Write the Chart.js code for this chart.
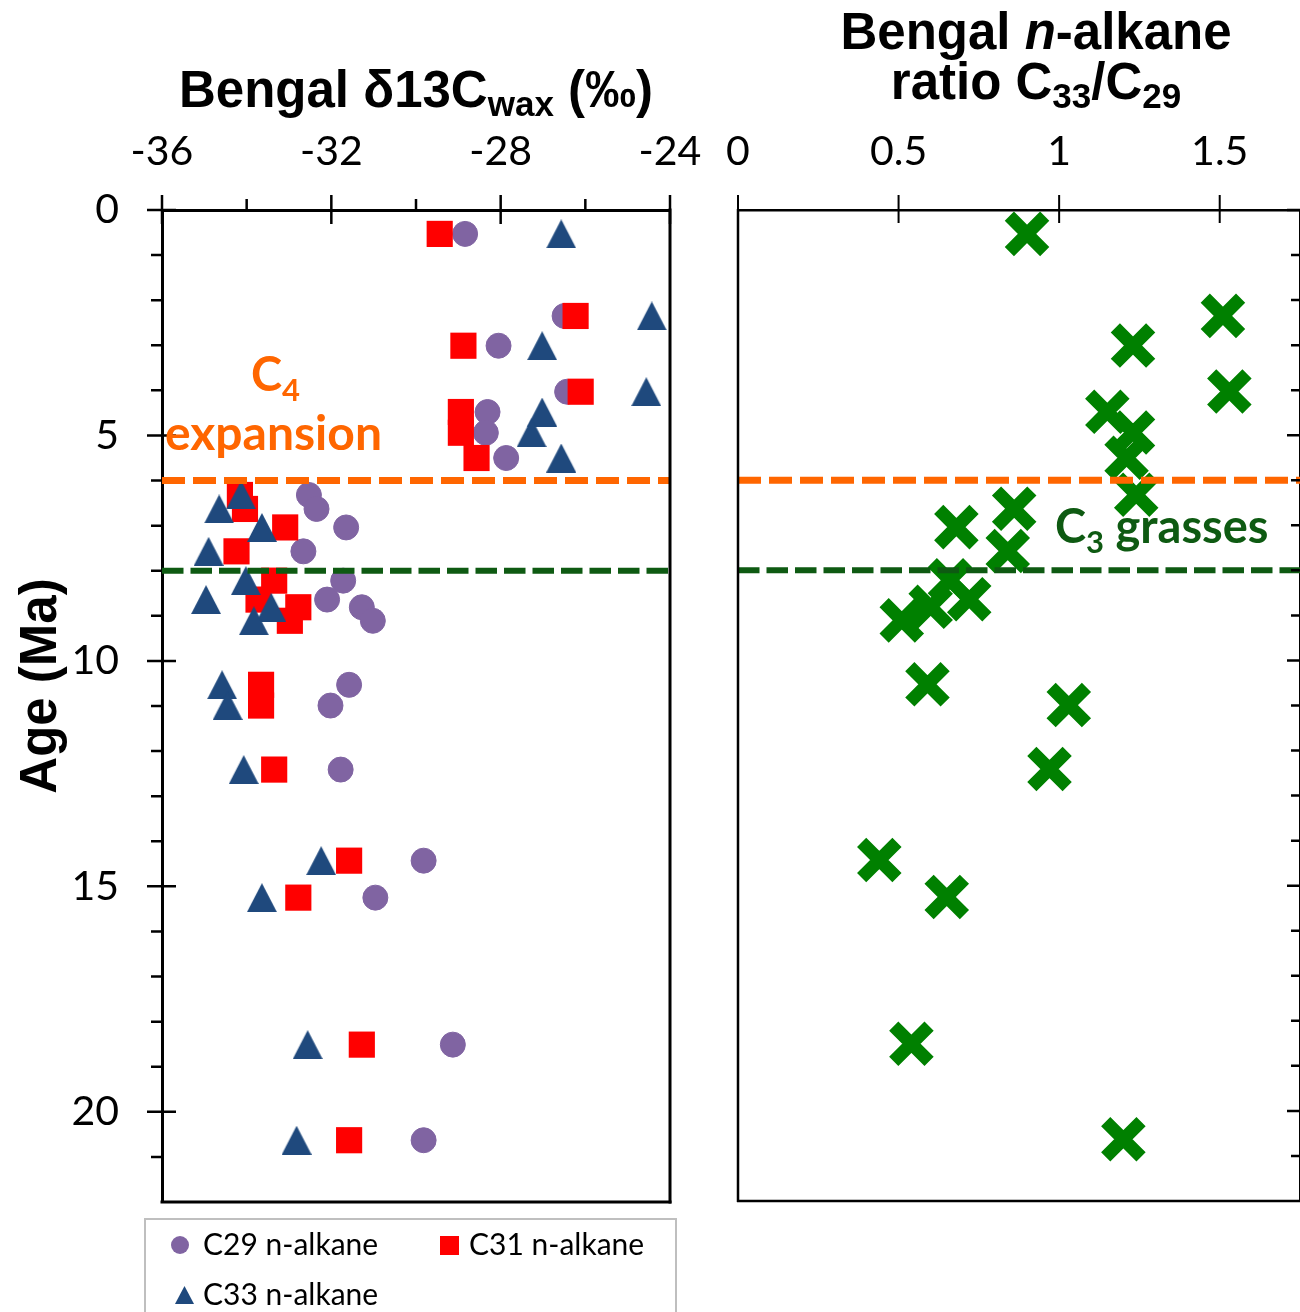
<!DOCTYPE html>
<html>
<head>
<meta charset="utf-8">
<script src="https://cdn.jsdelivr.net/npm/chart.js@4.4.1/dist/chart.umd.min.js"></script>
<style>
  html, body { margin: 0; padding: 0; background: #fff; }
  #wrap { position: relative; width: 1300px; height: 1312px; overflow: hidden; background: #fff; }
  #wrap canvas { position: absolute; left: 0; top: 0; }
</style>
</head>
<body>
<div id="wrap">
  <canvas id="isotopes" width="1300" height="1312"></canvas>
  <canvas id="ratio" width="1300" height="1312"></canvas>
</div>
<script>
// Sample ages (Ma) shared by every measurement
const AGE_MA = [0.53, 2.35, 3.01, 4.03, 4.48, 4.94, 5.50, 6.32, 6.63, 7.04, 7.57,
                8.22, 8.64, 8.81, 9.11, 10.53, 10.99, 12.41, 14.43, 15.25, 18.51, 20.63];

// δ13C of leaf-wax n-alkanes (‰)
const C29_D13C = [-28.84, -26.49, -28.05, -26.43, -28.31, -28.35, -27.87, -32.53, -32.35, -31.65, -32.66,
                  -31.72, -32.10, -31.28, -31.02, -31.58, -32.02, -31.78, -29.82, -30.96, -29.13, -29.82];
const C31_D13C = [-29.44, -26.23, -28.88, -26.11, -28.94, -28.94, -28.57, -34.16, -34.04, -33.09, -34.24,
                  -33.35, -33.72, -32.78, -32.98, -33.66, -33.66, -33.35, -31.58, -32.78, -31.28, -31.58];
const C33_D13C = [-26.57, -24.43, -27.02, -24.56, -27.02, -27.27, -26.57, -34.13, -34.65, -33.64, -34.90,
                  -34.02, -34.96, -33.42, -33.83, -34.58, -34.45, -34.07, -32.24, -33.64, -32.56, -32.82];

// n-alkane ratio C33/C29
const C33_C29_RATIO = [0.90, 1.51, 1.23, 1.53, 1.15, 1.23, 1.21, 1.24, 0.86, 0.68, 0.84,
                       0.66, 0.72, 0.60, 0.51, 0.59, 1.03, 0.97, 0.44, 0.65, 0.54, 1.20];

// Axis ticks
const D13C_RANGE = [-36, -24];
const D13C_TICKS = [-36, -32, -28, -24];
const D13C_TICK_LABELS = ['-36', '-32', '-28', '-24'];
const RATIO_RANGE = [0, 1.75];
const RATIO_TICKS = [0, 0.5, 1, 1.5];
const RATIO_TICK_LABELS = ['0', '0.5', '1', '1.5'];
const AGE_RANGE = [0, 22];
const AGE_TICKS = [0, 5, 10, 15, 20];
const AGE_TICK_LABELS = ['0', '5', '10', '15', '20'];

// Event horizons (Ma)
const C4_EXPANSION_MA = 6;
const C3_GRASSES_MA = 8;

const SERIES_NAMES = ['C29 n-alkane', 'C31 n-alkane', 'C33 n-alkane'];

const COLORS = {
  c29: '#8064A2',
  c31: '#FF0000',
  c33: '#1F497D',
  ratio: '#008000',
  c4: '#FF6600',
  c3: '#0E5A12'
};

const TITLE = '"Liberation Sans", Arial, sans-serif';
const BODY = 'Lato, "Open Sans", sans-serif';

function triangleSprite(w, h, color) {
  const c = document.createElement('canvas');
  c.width = w; c.height = h;
  const g = c.getContext('2d');
  g.fillStyle = color;
  g.beginPath();
  g.moveTo(w / 2, 0);
  g.lineTo(w, h);
  g.lineTo(0, h);
  g.closePath();
  g.fill();
  return c;
}

function pairs(xs) {
  return AGE_MA.map((a, i) => ({ x: xs[i], y: a }));
}

function minorTicks(range, step, skip) {
  const out = [];
  for (let v = range[0] + step; v < range[1] - 1e-9; v += step) {
    if (!skip(v)) out.push(+v.toFixed(6));
  }
  return out;
}

function tickMarks(ctx, scale, values, edge, out, inn, lw) {
  ctx.save();
  ctx.strokeStyle = '#000';
  ctx.lineWidth = lw;
  ctx.beginPath();
  values.forEach(v => {
    const p = scale.getPixelForValue(v);
    if (edge === 'top') { ctx.moveTo(p, scale.bottom - out); ctx.lineTo(p, scale.bottom + inn); }
    else if (edge === 'left') { ctx.moveTo(scale.right - out, p); ctx.lineTo(scale.right + inn, p); }
    else { ctx.moveTo(scale.left + out, p); ctx.lineTo(scale.left - inn, p); }
  });
  ctx.stroke();
  ctx.restore();
}

function drawRuns(ctx, runs, x, y, align) {
  let total = 0;
  runs.forEach(r => { ctx.font = r.font; r.w = ctx.measureText(r.text).width; total += r.w; });
  let cx = align === 'center' ? x - total / 2 : x;
  ctx.textAlign = 'left';
  ctx.textBaseline = 'alphabetic';
  runs.forEach(r => {
    ctx.font = r.font;
    ctx.fillStyle = r.color || '#000';
    ctx.fillText(r.text, cx, y + (r.dy || 0));
    cx += r.w;
  });
}

function hline(ctx, x1, x2, y, lw) {
  ctx.beginPath(); ctx.moveTo(x1, y); ctx.lineTo(x2, y); ctx.lineWidth = lw; ctx.stroke();
}
function vline(ctx, x, y1, y2, lw) {
  ctx.beginPath(); ctx.moveTo(x, y1); ctx.lineTo(x, y2); ctx.lineWidth = lw; ctx.stroke();
}

function eventLine(range, age, color, width, dash) {
  return {
    type: 'line',
    data: [{ x: range[0], y: age }, { x: range[1], y: age }],
    borderColor: color,
    borderWidth: width,
    borderDash: dash,
    borderCapStyle: 'butt',
    pointRadius: 0,
    fill: false,
    order: 0
  };
}

// keep the plot edges exactly where the axis boxes put them
function fixedBox(size, horizontal) {
  return s => {
    if (horizontal) s.height = size; else s.width = size;
    s.paddingLeft = 0; s.paddingRight = 0; s.paddingTop = 0; s.paddingBottom = 0;
  };
}

function build() {
  const tri = triangleSprite(30, 29, COLORS.c33);
  const tickFont = { family: BODY, size: 41 };

  // Left panel: δ13C of the three homologues
  const isotopeDecor = {
    id: 'isotopeDecor',
    afterDraw(chart) {
      const { ctx, chartArea: a, scales } = chart;
      ctx.save();
      ctx.strokeStyle = '#000';
      vline(ctx, a.right, a.top - 1.5, a.bottom + 1.5, 3);
      hline(ctx, a.left - 1.5, a.right + 1.5, a.bottom, 3);
      tickMarks(ctx, scales.x, D13C_TICKS, 'top', 15, 14, 2.5);
      tickMarks(ctx, scales.x, minorTicks(D13C_RANGE, 2, v => Math.abs(v % 4) < 1e-6), 'top', 11, 0, 2.5);
      tickMarks(ctx, scales.y, AGE_TICKS, 'left', 15, 14, 2.5);
      tickMarks(ctx, scales.y, minorTicks(AGE_RANGE, 1, v => Math.abs(v % 5) < 1e-6), 'left', 11, 0, 2.5);

      // axis titles
      drawRuns(ctx, [
        { text: 'Bengal δ13C', font: 'bold 51px ' + TITLE },
        { text: 'wax', font: 'bold 35px ' + TITLE, dy: 9 },
        { text: ' (‰)', font: 'bold 51px ' + TITLE }
      ], (a.left + a.right) / 2, 107, 'center');

      ctx.save();
      ctx.translate(56, (a.top + a.bottom) / 2 - 20);
      ctx.rotate(-Math.PI / 2);
      drawRuns(ctx, [{ text: 'Age (Ma)', font: 'bold 51px ' + TITLE }], 0, 0, 'center');
      ctx.restore();

      // C4 expansion label
      drawRuns(ctx, [
        { text: 'C', font: 'bold 47px ' + BODY, color: COLORS.c4 },
        { text: '4', font: 'bold 31px ' + BODY, color: COLORS.c4, dy: 10 }
      ], 251, 391, 'left');
      drawRuns(ctx, [{ text: 'expansion', font: 'bold 48px ' + BODY, color: COLORS.c4 }], 165, 450, 'left');

      // legend
      ctx.strokeStyle = '#BFBFBF';
      ctx.lineWidth = 2;
      ctx.strokeRect(145, 1219, 531, 140);
      ctx.fillStyle = COLORS.c29;
      ctx.beginPath(); ctx.arc(180, 1245, 9, 0, Math.PI * 2); ctx.fill();
      ctx.fillStyle = COLORS.c31;
      ctx.fillRect(440, 1236, 19, 19);
      ctx.drawImage(triangleSprite(19, 18, COLORS.c33), 175, 1286);
      ctx.fillStyle = '#000';
      ctx.font = '30px ' + BODY;
      ctx.textAlign = 'left';
      ctx.textBaseline = 'middle';
      ctx.fillText(SERIES_NAMES[0], 203, 1245);
      ctx.fillText(SERIES_NAMES[1], 469, 1245);
      ctx.fillText(SERIES_NAMES[2], 203, 1295);
      ctx.restore();
    }
  };

  new Chart(document.getElementById('isotopes'), {
    type: 'scatter',
    data: {
      datasets: [
        eventLine(D13C_RANGE, C4_EXPANSION_MA, COLORS.c4, 7, [23, 8]),
        eventLine(D13C_RANGE, C3_GRASSES_MA, COLORS.c3, 6, [21.5, 7]),
        {
          label: SERIES_NAMES[2], data: pairs(C33_D13C), order: 1,
          pointStyle: tri, pointRadius: 15, backgroundColor: COLORS.c33, borderColor: COLORS.c33
        },
        {
          label: SERIES_NAMES[1], data: pairs(C31_D13C), order: 2,
          pointStyle: 'rect', pointRadius: 18.5, pointBorderWidth: 0,
          backgroundColor: COLORS.c31, borderColor: COLORS.c31
        },
        {
          label: SERIES_NAMES[0], data: pairs(C29_D13C), order: 3,
          pointStyle: 'circle', pointRadius: 12.5, pointBorderWidth: 1,
          backgroundColor: COLORS.c29, borderColor: COLORS.c29
        }
      ]
    },
    options: {
      responsive: false,
      animation: false,
      devicePixelRatio: 1,
      events: [],
      layout: { autoPadding: false, padding: { left: 0, top: 0, right: 630, bottom: 110 } },
      plugins: { legend: { display: false }, tooltip: { enabled: false }, title: { display: false } },
      scales: {
        x: {
          type: 'linear', position: 'top', min: D13C_RANGE[0], max: D13C_RANGE[1],
          grid: { display: false, drawTicks: false },
          border: { display: true, color: '#000', width: 3 },
          ticks: { font: tickFont, color: '#000', padding: 34, maxRotation: 0,
                   callback: (v, i) => D13C_TICK_LABELS[i] },
          afterBuildTicks: s => { s.ticks = D13C_TICKS.map(v => ({ value: v })); },
          afterFit: fixedBox(210, true)
        },
        y: {
          type: 'linear', position: 'left', reverse: true, min: AGE_RANGE[0], max: AGE_RANGE[1],
          grid: { display: false, drawTicks: false },
          border: { display: true, color: '#000', width: 3 },
          ticks: { font: tickFont, color: '#000', padding: 43,
                   callback: (v, i) => AGE_TICK_LABELS[i] },
          afterBuildTicks: s => { s.ticks = AGE_TICKS.map(v => ({ value: v })); },
          afterFit: fixedBox(162, false)
        }
      }
    },
    plugins: [isotopeDecor]
  });

  // Right panel: C33/C29 ratio; its right-hand axis sits just past the page edge
  const ratioDecor = {
    id: 'ratioDecor',
    afterDraw(chart) {
      const { ctx, chartArea: a, scales } = chart;
      ctx.save();
      ctx.strokeStyle = '#000';
      vline(ctx, a.left, a.top - 1, a.bottom + 1, 2.5);
      hline(ctx, a.left - 1, a.right + 1, a.bottom, 2.5);
      tickMarks(ctx, scales.x, RATIO_TICKS, 'top', 15, 13, 2);
      tickMarks(ctx, scales.y, AGE_TICKS, 'right', 13, 13, 2.5);
      tickMarks(ctx, scales.y, minorTicks(AGE_RANGE, 1, v => Math.abs(v % 5) < 1e-6), 'right', 0, 9, 2.5);

      drawRuns(ctx, [
        { text: 'Bengal ', font: 'bold 51px ' + TITLE },
        { text: 'n', font: 'italic bold 51px ' + TITLE },
        { text: '-alkane', font: 'bold 51px ' + TITLE }
      ], 1036, 49, 'center');
      drawRuns(ctx, [
        { text: 'ratio C', font: 'bold 51px ' + TITLE },
        { text: '33', font: 'bold 35px ' + TITLE, dy: 9 },
        { text: '/C', font: 'bold 51px ' + TITLE },
        { text: '29', font: 'bold 35px ' + TITLE, dy: 9 }
      ], 1036, 99, 'center');

      drawRuns(ctx, [
        { text: 'C', font: 'bold 47px ' + BODY, color: COLORS.c3 },
        { text: '3', font: 'bold 31px ' + BODY, color: COLORS.c3, dy: 10 },
        { text: ' grasses', font: 'bold 47px ' + BODY, color: COLORS.c3 }
      ], 1055, 543, 'left');
      ctx.restore();
    }
  };

  new Chart(document.getElementById('ratio'), {
    type: 'scatter',
    data: {
      datasets: [
        eventLine(RATIO_RANGE, C4_EXPANSION_MA, COLORS.c4, 7, [23, 8]),
        eventLine(RATIO_RANGE, C3_GRASSES_MA, COLORS.c3, 6, [21.5, 7]),
        {
          label: 'C33/C29', data: pairs(C33_C29_RATIO), order: 1,
          pointStyle: 'crossRot', pointRadius: 25, pointBorderWidth: 13,
          backgroundColor: COLORS.ratio, borderColor: COLORS.ratio
        }
      ]
    },
    options: {
      responsive: false,
      animation: false,
      devicePixelRatio: 1,
      events: [],
      layout: { autoPadding: false, padding: { left: 738, top: 0, right: -2, bottom: 111 } },
      plugins: { legend: { display: false }, tooltip: { enabled: false }, title: { display: false } },
      scales: {
        x: {
          type: 'linear', position: 'top', min: RATIO_RANGE[0], max: RATIO_RANGE[1],
          grid: { display: false, drawTicks: false },
          border: { display: true, color: '#000', width: 2.5 },
          ticks: { font: tickFont, color: '#000', padding: 34, maxRotation: 0,
                   callback: (v, i) => RATIO_TICK_LABELS[i] },
          afterBuildTicks: s => { s.ticks = RATIO_TICKS.map(v => ({ value: v })); },
          afterFit: fixedBox(210, true)
        },
        y: {
          type: 'linear', position: 'right', reverse: true, min: AGE_RANGE[0], max: AGE_RANGE[1],
          grid: { display: false, drawTicks: false },
          border: { display: true, color: '#000', width: 2.5 },
          ticks: { display: false },
          afterBuildTicks: s => { s.ticks = AGE_TICKS.map(v => ({ value: v })); },
          afterFit: fixedBox(0, false)
        }
      }
    },
    plugins: [ratioDecor]
  });
}

const fontLoads = [
  'bold 51px "Liberation Sans"', 'italic bold 51px "Liberation Sans"',
  '41px Lato', 'bold 47px Lato', '30px Lato'
].map(f => document.fonts.load(f));
Promise.all(fontLoads).then(build, build);
</script>
</body>
</html>
